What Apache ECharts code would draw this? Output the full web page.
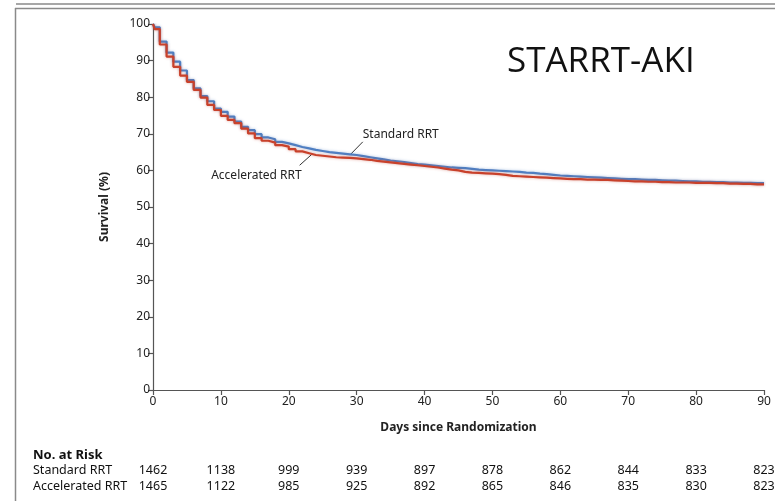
<!DOCTYPE html>
<html><head><meta charset="utf-8">
<script src="https://cdn.jsdelivr.net/npm/echarts@6/dist/echarts.min.js"></script>
<style>html,body{margin:0;padding:0;background:#fff}#c{width:775px;height:501px}</style>
</head><body><div id="c"></div>
<script>
// Time points (days since randomization)
const days = [0, 0.25, 1, 2, 3, 4, 5, 6, 7, 8, 9, 10, 11, 12, 13, 14, 15, 16, 17, 18, 19, 20,
  21, 22, 23, 24, 25, 26, 27, 28, 29, 30, 31, 32, 33, 34, 35, 36, 37, 38, 39, 40,
  41, 42, 43, 44, 45, 46, 47, 48, 49, 50, 51, 52, 53, 54, 55, 56, 57, 58, 59, 60,
  61, 62, 63, 64, 65, 66, 67, 68, 69, 70, 71, 72, 73, 74, 75, 76, 77, 78, 79, 80,
  81, 82, 83, 84, 85, 86, 87, 88, 89, 90];
// Survival (%) Standard RRT
const standardSurv = [100, 99.1, 95.2, 92.2, 89.7, 87.3, 84.7, 82.4, 80.3, 78.9, 76.9, 76.0,
  74.7, 73.3, 71.9, 71.0, 69.9, 69.0, 68.5, 67.8, 67.4, 66.9, 66.4, 66.0, 65.6,
  65.3, 65.0, 64.8, 64.6, 64.4, 64.2, 63.9, 63.6, 63.3, 63.0,
  62.7, 62.5, 62.3, 62.0, 61.7, 61.6, 61.4, 61.2, 61.0, 60.8,
  60.7, 60.6, 60.4, 60.2, 60.1, 60.0, 59.9, 59.8, 59.7, 59.6,
  59.4, 59.3, 59.1, 59.0, 58.8, 58.6, 58.5, 58.4, 58.3, 58.2,
  58.1, 58.0, 57.9, 57.8, 57.7, 57.6, 57.6, 57.5, 57.4, 57.4,
  57.3, 57.2, 57.2, 57.1, 57.0, 57.0, 56.9, 56.9, 56.8, 56.8,
  56.7, 56.7, 56.6, 56.6, 56.5, 56.5, 56.4];
// Survival (%) Accelerated RRT
const acceleratedSurv = [100, 98.6, 94.4, 91.1, 88.3, 85.9, 84.2, 82.0, 79.9, 77.9, 76.5, 74.9,
  73.8, 72.9, 71.4, 70.1, 68.8, 68.1, 67.6, 66.9, 66.5, 65.8, 65.2, 64.7, 64.2,
  64.0, 63.8, 63.6, 63.5, 63.4, 63.3, 63.1, 62.9, 62.6, 62.4,
  62.2, 62.0, 61.8, 61.6, 61.4, 61.2, 61.0, 60.8, 60.5, 60.2,
  60.0, 59.6, 59.4, 59.3, 59.2, 59.1, 59.0, 58.8, 58.5, 58.4,
  58.3, 58.2, 58.1, 58.0, 57.9, 57.8, 57.7, 57.6, 57.6, 57.5,
  57.5, 57.4, 57.4, 57.3, 57.2, 57.1, 57.0, 57.0, 56.9, 56.9,
  56.8, 56.8, 56.7, 56.7, 56.7, 56.6, 56.6, 56.6, 56.5, 56.5,
  56.4, 56.4, 56.3, 56.3, 56.2, 56.2, 56.1];
// Number at risk table
const riskDays = [0, 10, 20, 30, 40, 50, 60, 70, 80, 90];
const riskStandard = [1462, 1138, 999, 939, 897, 878, 862, 844, 833, 823];
const riskAccelerated = [1465, 1122, 985, 925, 892, 865, 846, 835, 830, 823];
const groupNames = ['Standard RRT', 'Accelerated RRT'];

const FONT = "'Noto Sans', sans-serif";
const NARROW = "'Liberation Sans Narrow', 'Noto Sans', sans-serif";
const BLUE = '#4f7fc2', RED = '#c8412b';

const chart = echarts.init(document.getElementById('c'), null, {renderer: 'canvas'});
const pair = (xs, ys) => xs.map((x, i) => [x, ys[i]]);

chart.setOption({
  animation: false,
  backgroundColor: '#fff',
  grid: {left: 153, right: 11, top: 24, bottom: 111, containLabel: false},
  xAxis: {
    type: 'value', min: 0, max: 90, interval: 10,
    name: 'Days since Randomization', nameLocation: 'middle', nameGap: 32,
    nameTextStyle: {fontFamily: FONT, fontSize: 12, fontWeight: 'bold', color: '#222'},
    axisLine: {show: true, lineStyle: {color: '#555', width: 1.2}},
    axisTick: {show: true, length: 5, inside: false, lineStyle: {color: '#555', width: 1.2}},
    axisLabel: {fontFamily: FONT, fontSize: 12, color: '#222', margin: 6},
    splitLine: {show: false}
  },
  yAxis: {
    type: 'value', min: 0, max: 100, interval: 10,
    name: 'Survival (%)', nameLocation: 'middle', nameGap: 42, nameRotate: 90,
    nameTextStyle: {fontFamily: FONT, fontSize: 12, fontWeight: 'bold', color: '#222'},
    axisLine: {show: true, lineStyle: {color: '#555', width: 1.2}},
    axisTick: {show: true, length: 5, inside: false, lineStyle: {color: '#555', width: 1.2}},
    axisLabel: {fontFamily: FONT, fontSize: 12, color: '#222', margin: 3},
    splitLine: {show: false}
  },
  series: [
    {name: groupNames[0], type: 'line', step: 'end', symbol: 'none', z: 3,
     data: pair(days, standardSurv),
     lineStyle: {color: BLUE, width: 2.2, shadowColor: 'rgba(79,127,194,0.45)', shadowBlur: 3}},
    {name: groupNames[1], type: 'line', step: 'end', symbol: 'none', z: 4,
     data: pair(days, acceleratedSurv),
     lineStyle: {color: RED, width: 2.2, shadowColor: 'rgba(200,65,43,0.45)', shadowBlur: 3}}
  ]
});

// Annotations and risk table placed through the axis scales
const px = (x, y) => chart.convertToPixel({gridIndex: 0}, [x, y]);
const g = [];
// frame lines
g.push({type: 'line', shape: {x1: 16, y1: 4, x2: 775, y2: 4}, style: {stroke: '#8a8a8a', lineWidth: 1.5}});
g.push({type: 'line', shape: {x1: 15, y1: 8.5, x2: 775, y2: 8.5}, style: {stroke: '#8a8a8a', lineWidth: 1.5}});
g.push({type: 'line', shape: {x1: 15.5, y1: 8, x2: 15.5, y2: 501}, style: {stroke: '#8a8a8a', lineWidth: 1.5}});
// title
g.push({type: 'text', x: 507, y: 62.5, style: {text: 'STARRT-AKI', font: "35px 'Open Sans', sans-serif", fill: '#111', textVerticalAlign: 'middle'}});
// curve labels with leader lines
const s1 = px(29, 64.2), s2 = px(30.9, 67.8);
g.push({type: 'line', shape: {x1: s1[0], y1: s1[1], x2: s2[0], y2: s2[1]}, style: {stroke: '#333', lineWidth: 1}});
g.push({type: 'text', x: s2[0], y: s2[1] - 7, style: {text: groupNames[0], font: "12px " + FONT, fill: '#222', textVerticalAlign: 'middle'}});
const a1 = px(23.4, 64.4), a2 = px(21.6, 61.4);
g.push({type: 'line', shape: {x1: a1[0], y1: a1[1], x2: a2[0], y2: a2[1]}, style: {stroke: '#333', lineWidth: 1}});
g.push({type: 'text', x: a2[0] + 2, y: a2[1] + 10, style: {text: groupNames[1], font: "12px " + FONT, fill: '#222', textVerticalAlign: 'middle', textAlign: 'right'}});
// risk table
g.push({type: 'text', x: 33, y: 455, style: {text: 'No. at Risk', font: "bold 13px " + NARROW, fill: '#111', textVerticalAlign: 'middle'}});
const rows = [[groupNames[0], riskStandard, 470], [groupNames[1], riskAccelerated, 486]];
rows.forEach(([name, vals, y]) => {
  g.push({type: 'text', x: 33, y: y, style: {text: name, font: "12.5px " + NARROW, fill: '#111', textVerticalAlign: 'middle'}});
  vals.forEach((v, i) => {
    const p = px(riskDays[i], 0);
    g.push({type: 'text', x: p[0], y: y, style: {text: String(v), font: "12.5px " + NARROW, fill: '#111', textVerticalAlign: 'middle', textAlign: 'center'}});
  });
});
chart.setOption({graphic: {elements: g}});
</script>
</body></html>
